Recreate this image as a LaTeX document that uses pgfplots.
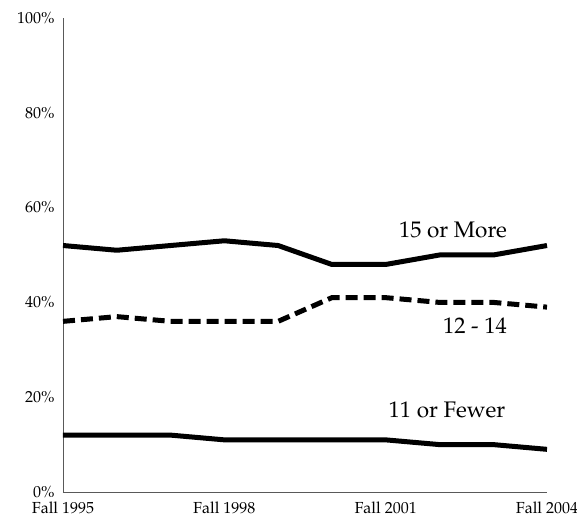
\documentclass[border=0pt]{standalone}
\usepackage[T1]{fontenc}
\usepackage{mathpazo}
\usepackage{pgfplots}
\pgfplotsset{compat=1.18}
\begin{document}
\begin{tikzpicture}[x=1pt,y=1pt]
\begin{axis}[
  at={(0,0)}, anchor=origin,
  scale only axis, width=484pt, height=474pt,
  xmin=1995, xmax=2004, ymin=0, ymax=100,
  axis lines=left, axis line style={gray!70!black, line width=0.8pt, -},
  xtick={1995,1998,2001,2004},
  xticklabels={Fall 1995,Fall 1998,Fall 2001,Fall 2004},
  ytick={0,20,40,60,80,100},
  yticklabels={0\%,20\%,40\%,60\%,80\%,100\%},
  major tick length=0pt,
  tick label style={font=\fontsize{16}{18}\selectfont},
  xticklabel style={anchor=north, inner sep=0pt, yshift=-10pt},
  yticklabel style={xshift=-5pt},
  clip=false,
]
\addplot[black, line width=5pt, line join=round] coordinates {
(1995,52) (1996,51) (1997,52) (1998,53) (1999,52) (2000,48) (2001,48) (2002,50) (2003,50) (2004,52)};
\addplot[black, line width=5pt, dash pattern=on 12pt off 6pt] coordinates {
(1995,36) (1996,37) (1997,36) (1998,36) (1999,36) (2000,41) (2001,41) (2002,40) (2003,40) (2004,39)};
\addplot[black, line width=5pt, line join=round] coordinates {
(1995,12) (1996,12) (1997,12) (1998,11) (1999,11) (2000,11) (2001,11) (2002,10) (2003,10) (2004,9)};
\node[font=\fontsize{22.5}{26}\selectfont] at (axis cs:2002.25,55.3) {15 or More};
\node[font=\fontsize{22.5}{26}\selectfont] at (axis cs:2002.66,35) {12 - 14};
\node[font=\fontsize{22.5}{26}\selectfont] at (axis cs:2002.14,17.3) {11 or Fewer};
\end{axis}
\pgfresetboundingbox
\useasboundingbox (-63,-26) rectangle (514,492);
\end{tikzpicture}
\end{document}
